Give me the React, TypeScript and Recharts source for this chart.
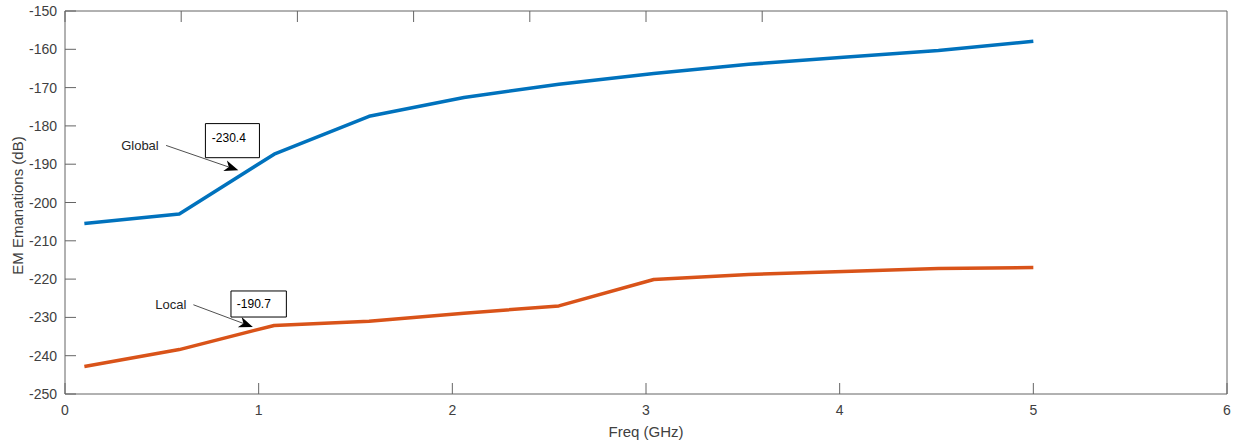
import React from 'react';
import { LineChart, Line, XAxis, YAxis, ReferenceLine, ReferenceArea, ReferenceDot, Label } from 'recharts';

// frequency sweep (GHz) and the two emission curves (dB)
const freqGHz = [0.1, 0.59, 1.08, 1.57, 2.06, 2.55, 3.04, 3.53, 4.02, 4.51, 5.0];
const globalDb = [-205.5, -203.0, -187.4, -177.5, -172.6, -169.1, -166.3, -163.9, -162.1, -160.3, -157.9];
const localDb = [-242.8, -238.4, -232.1, -231.0, -228.9, -227.0, -220.1, -218.8, -218.0, -217.2, -217.0];

const xTicks = [0, 1, 2, 3, 4, 5, 6];
const yTicks = [-250, -240, -230, -220, -210, -200, -190, -180, -170, -160, -150];

// callouts, in data units
const calloutNames = ['Global', 'Local'];
const calloutValues = ['-230.4', '-190.7'];
const calloutNameAt = [[0.387, -185.2], [0.546, -226.7]];
const arrowFrom = [[0.522, -185.1], [0.663, -226.7]];
const arrowTo = [[0.895, -191.6], [0.97, -232.5]];
const boxX = [[0.725, 1.004], [0.857, 1.143]];
const boxY = [[-179.4, -188.3], [-223.1, -229.9]];
const boxTextAt = [[0.758, -183.1], [0.887, -226.5]];

const data = freqGHz.map((f, i) => ({ freq: f, global: globalDb[i], local: localDb[i] }));

const FONT = '"Liberation Sans", Arial, sans-serif';
const AXIS = '#656565';
const TEXT = '#404040';
const TICK = 11;

const BottomTick = ({ x, y, payload }: any) => (
    <g>
        <line x1={x} y1={y} x2={x} y2={y - TICK} stroke={AXIS} />
        <text x={x} y={y + 21} textAnchor="middle" fill={TEXT} fontSize={14} fontFamily={FONT}>{payload.value}</text>
    </g>
);

const TopTick = ({ x, y }: any) => <line x1={x} y1={y} x2={x} y2={y + TICK} stroke={AXIS} />;

const LeftTick = ({ x, y, payload }: any) => (
    <g>
        <line x1={x} y1={y} x2={x + TICK} y2={y} stroke={AXIS} />
        <text x={x - 8} y={y + 5} textAnchor="end" fill={TEXT} fontSize={14} fontFamily={FONT}>{payload.value}</text>
    </g>
);

const RightTick = ({ x, y }: any) => <line x1={x} y1={y} x2={x - TICK} y2={y} stroke={AXIS} />;

const Arrow = (props: any) => {
    const { x1, y1, x2, y2 } = props;
    const len = Math.hypot(x2 - x1, y2 - y1);
    const ux = (x2 - x1) / len, uy = (y2 - y1) / len;
    const px = -uy, py = ux;
    const hl = 14, hw = 5.5;
    const bx = x2 - ux * hl, by = y2 - uy * hl;
    const nx = x2 - ux * hl * 0.72, ny = y2 - uy * hl * 0.72;
    return (
        <g>
            <line x1={x1} y1={y1} x2={nx} y2={ny} stroke="#505050" strokeWidth={1} />
            <polygon
                points={`${x2},${y2} ${bx + px * hw},${by + py * hw} ${nx},${ny} ${bx - px * hw},${by - py * hw}`}
                fill="#000"
            />
        </g>
    );
};

const textShape = (value: string, anchor: 'middle' | 'start', size: number, color: string) => (p: any) => (
    <text x={p.cx} y={p.cy} dy={size * 0.36} textAnchor={anchor} fontSize={size} fontFamily={FONT} fill={color}>{value}</text>
);

const App: React.FC = () => {
    return (
        <div style={{ position: 'absolute', left: 0, top: 0, background: '#fff' }}>
            <LineChart width={1239} height={441} data={data} margin={{ top: 10, right: 11, bottom: 0, left: 0 }}>
                <XAxis
                    dataKey="freq"
                    type="number"
                    domain={[0, 6]}
                    ticks={xTicks}
                    height={47}
                    tickSize={0}
                    tickMargin={0}
                    tickLine={false}
                    tick={<BottomTick />}
                    axisLine={{ stroke: AXIS }}
                >
                    <Label
                        content={({ viewBox }: any) => (
                            <text x={viewBox.x + viewBox.width / 2} y={viewBox.y + 43} textAnchor="middle" fontSize={15} fontFamily={FONT} fill={TEXT}>Freq (GHz)</text>
                        )}
                    />
                </XAxis>
                <XAxis
                    xAxisId="top"
                    orientation="top"
                    type="number"
                    domain={[0, 6]}
                    ticks={xTicks}
                    height={1}
                    tickSize={0}
                    tickMargin={0}
                    tickLine={false}
                    tick={<TopTick />}
                    axisLine={{ stroke: AXIS }}
                />
                <YAxis
                    type="number"
                    domain={[-250, -150]}
                    ticks={yTicks}
                    width={65}
                    tickSize={0}
                    tickMargin={0}
                    tickLine={false}
                    tick={<LeftTick />}
                    axisLine={{ stroke: AXIS }}
                >
                    <Label
                        content={({ viewBox }: any) => {
                            const cx = 18;
                            const cy = viewBox.y + viewBox.height / 2 + 3;
                            return (
                                <text x={cx} y={cy} transform={`rotate(-90 ${cx} ${cy})`} dy={5} textAnchor="middle" fontSize={15} fontFamily={FONT} fill={TEXT}>EM Emanations (dB)</text>
                            );
                        }}
                    />
                </YAxis>
                <YAxis
                    yAxisId="right"
                    orientation="right"
                    type="number"
                    domain={[-250, -150]}
                    ticks={yTicks}
                    width={1}
                    tickSize={0}
                    tickMargin={0}
                    tickLine={false}
                    tick={<RightTick />}
                    axisLine={{ stroke: AXIS }}
                />

                <Line dataKey="global" type="linear" stroke="#0072BD" strokeWidth={3.5} dot={false} isAnimationActive={false} strokeLinejoin="round" />
                <Line dataKey="local" type="linear" stroke="#D95319" strokeWidth={3.5} dot={false} isAnimationActive={false} strokeLinejoin="round" />

                {calloutNames.map((name, i) => (
                    <ReferenceArea
                        key={`box-${name}`}
                        x1={boxX[i][0]}
                        x2={boxX[i][1]}
                        y1={boxY[i][0]}
                        y2={boxY[i][1]}
                        fill="#fff"
                        fillOpacity={1}
                        stroke="#000"
                        strokeWidth={1}
                        ifOverflow="visible"
                    />
                ))}
                {calloutNames.map((name, i) => (
                    <ReferenceLine
                        key={`arrow-${name}`}
                        segment={[{ x: arrowFrom[i][0], y: arrowFrom[i][1] }, { x: arrowTo[i][0], y: arrowTo[i][1] }]}
                        shape={Arrow}
                        ifOverflow="visible"
                    />
                ))}
                {calloutNames.map((name, i) => (
                    <ReferenceDot
                        key={`name-${name}`}
                        x={calloutNameAt[i][0]}
                        y={calloutNameAt[i][1]}
                        r={0}
                        shape={textShape(name, 'middle', 13, '#262626')}
                        ifOverflow="visible"
                    />
                ))}
                {calloutNames.map((name, i) => (
                    <ReferenceDot
                        key={`val-${name}`}
                        x={boxTextAt[i][0]}
                        y={boxTextAt[i][1]}
                        r={0}
                        shape={textShape(calloutValues[i], 'start', 12, '#000')}
                        ifOverflow="visible"
                    />
                ))}
            </LineChart>
        </div>
    );
};

export default App;
